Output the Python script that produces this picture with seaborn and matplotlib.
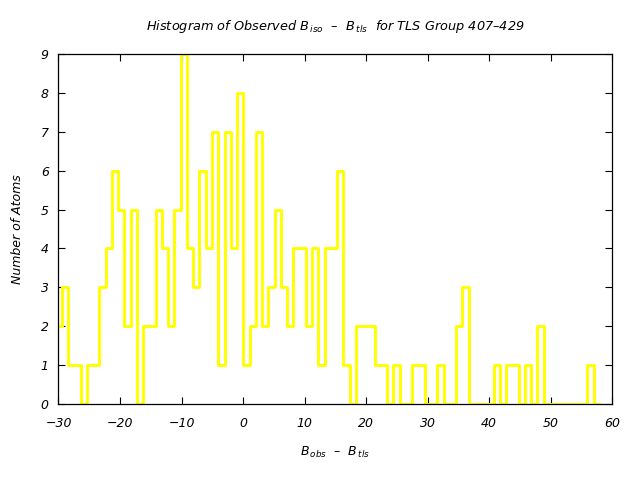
import numpy as np
import pandas as pd
import matplotlib
matplotlib.use("Agg")
import matplotlib.pyplot as plt
import seaborn as sns

# Histogram data (uniform bins)
bin_start = -30.48
bin_width = 1.0174
counts = [2, 3, 1, 1, 0, 1, 1, 3, 4, 6,
          5, 2, 5, 0, 2, 2, 5, 4, 2, 5,
          9, 4, 3, 6, 4, 7, 1, 7, 4, 8,
          1, 2, 7, 2, 3, 5, 3, 2, 4, 4,
          2, 4, 1, 4, 4, 6, 1, 0, 2, 2,
          2, 1, 1, 0, 1, 0, 0, 1, 1, 0,
          0, 1, 0, 0, 2, 3, 0, 0, 0, 0,
          1, 0, 1, 1, 0, 1, 0, 2, 0, 0,
          0, 0, 0, 0, 0, 1, 0]
x_ticks = [-30, -20, -10, 0, 10, 20, 30, 40, 50, 60]
y_ticks = [0, 1, 2, 3, 4, 5, 6, 7, 8, 9]

n = len(counts)
edges = bin_start + bin_width * np.arange(n + 1)
centers = edges[:-1] + bin_width / 2
df = pd.DataFrame({"b": centers, "n": counts})

sns.set_theme(style="white")
plt.rcParams["font.family"] = ["DejaVu Sans"]
plt.rcParams["mathtext.fontset"] = "dejavusans"
plt.rcParams["text.color"] = "black"
plt.rcParams["axes.labelcolor"] = "black"
plt.rcParams["xtick.color"] = "black"
plt.rcParams["ytick.color"] = "black"

fig = plt.figure(figsize=(6.4, 4.8), dpi=100)
ax = fig.add_axes([0.0914, 0.1583, 0.865, 0.7292])

sns.histplot(data=df, x="b", weights="n", bins=list(edges), element="step",
             fill=False, color="#FFFF00", linewidth=2.1, ax=ax)

ax.set_xlim(-30, 60)
ax.set_ylim(0, 9)
ax.set_xticks(x_ticks)
ax.set_yticks(y_ticks)
ax.set_xticklabels([str(v).replace("-", "\u2212") for v in x_ticks], style="italic", fontsize=9)
ax.set_yticklabels([str(v) for v in y_ticks], style="italic", fontsize=9)
ax.tick_params(axis="both", direction="in", length=5, width=0.8, colors="black",
               top=True, right=True, bottom=True, left=True, pad=7)
ax.tick_params(axis="x", pad=9)
for s in ax.spines.values():
    s.set_color("black")
    s.set_linewidth(0.9)

ax.set_xlabel("$B_{\\,obs}$  \u2013  $B_{\\,tls}$", fontsize=9, style="italic",
              labelpad=11, color="black")
ax.set_ylabel("Number of Atoms", fontsize=9, style="italic", labelpad=12, color="black")
ax.set_title("Histogram of Observed $B_{\\,iso}$  \u2013  $B_{\\,tls}$  for TLS Group 407\u2013429",
             fontsize=9.3, style="italic", pad=17, color="black")

fig.savefig("out.png", dpi=100, facecolor="white")
